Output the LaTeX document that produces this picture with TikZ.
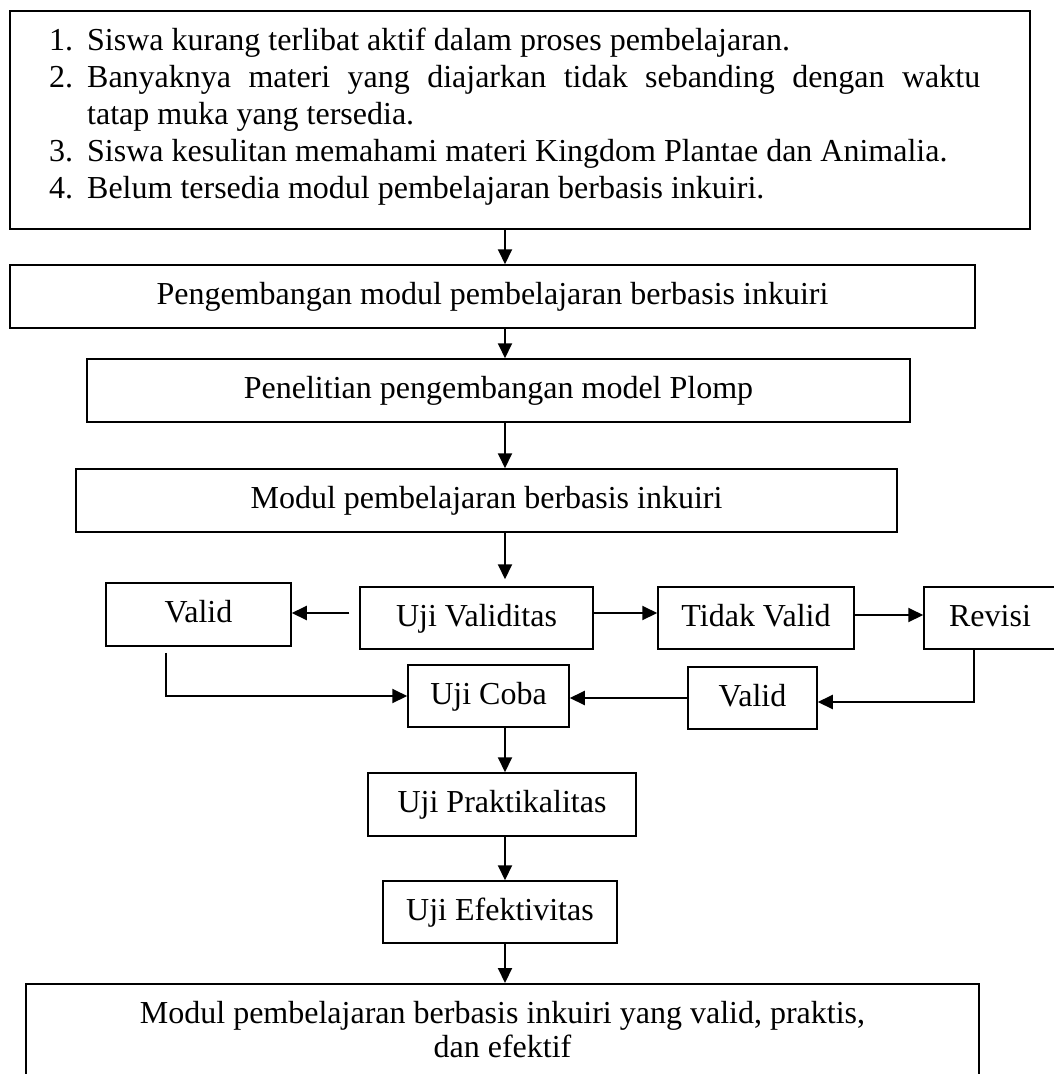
\documentclass[tikz,border=0pt]{standalone}
\usepackage{fontspec}
\setmainfont{Liberation Serif}
\usetikzlibrary{arrows.meta,calc}
\newcommand{\itm}[2]{\hangindent=38pt\hangafter=1\noindent\makebox[38pt][l]{#1}#2\par}
\begin{document}
\begin{tikzpicture}[x=1pt,y=-1pt,
  txt/.style={font=\fontsize{32}{37}\selectfont},
  box/.style={draw, line width=1.5pt, inner sep=0pt, txt, text height=23pt, text depth=6.5pt},
  conn/.style={line width=2pt, -{Triangle[length=15pt,width=14pt]}},
  plain/.style={line width=2pt}]
\useasboundingbox (0,0) rectangle (1054,1074);
\fill[white] (0,0) rectangle (1054,1074);
\coordinate (axis) at (505,0);

\node[box, minimum width=1020pt, minimum height=218pt] (top) at (520,120) {};
\node[txt, anchor=base west, text width=931pt, align=justify, inner sep=0pt] (list) at (49,50) {%
\itm{1.}{Siswa kurang terlibat aktif dalam proses pembelajaran.}%
\itm{2.}{Banyaknya materi yang diajarkan tidak sebanding dengan waktu\linebreak tatap muka yang tersedia.}%
\itm{3.}{Siswa kesulitan memahami materi Kingdom Plantae dan Animalia.}%
\itm{4.}{Belum tersedia modul pembelajaran berbasis inkuiri.}};

\node[box, minimum width=965pt, minimum height=63pt] (b2) at (492.5,296.5) {Pengembangan modul pembelajaran berbasis inkuiri};
\node[box, minimum width=823pt, minimum height=63pt] (b3) at (498.5,390.5) {Penelitian pengembangan model Plomp};
\node[box, minimum width=821pt, minimum height=63pt] (b4) at (486.5,500.5) {Modul pembelajaran berbasis inkuiri};

\node[box, minimum width=185pt, minimum height=63pt] (valL) at (198.5,614.5) {Valid};
\node[box, minimum width=233pt, minimum height=62pt] (uv) at (476.5,618) {Uji Validitas};
\node[box, minimum width=196pt, minimum height=62pt] (tv) at (756,618) {Tidak Valid};
\node[box, minimum width=132pt, minimum height=62pt] (rev) at (990,618) {Revisi};
\node[box, minimum width=161pt, minimum height=62pt] (uc) at (488.5,696) {Uji Coba};
\node[box, minimum width=129pt, minimum height=62pt] (valR) at (752.5,698) {Valid};
\node[box, minimum width=268pt, minimum height=63pt] (up) at (502,804.5) {Uji Praktikalitas};
\node[box, minimum width=234pt, minimum height=62pt] (ue) at (500,912) {Uji Efektivitas};

\node[box, minimum width=953pt, minimum height=110pt, anchor=north] (fin) at (502.5,983) {};
\node[anchor=base, align=center, inner sep=0pt, font=\fontsize{32}{34}\selectfont] (fintext) at (502.5,1057) {Modul pembelajaran berbasis inkuiri yang valid, praktis,\\dan efektif};

\draw[conn] (top.south -| axis) -- (b2.north -| axis);
\draw[conn] (b2.south -| axis) -- (b3.north -| axis);
\draw[conn] (b3.south -| axis) -- (b4.north -| axis);
\draw[conn] (b4.south -| axis) -- ([yshift=7pt]uv.north -| axis);
\draw[conn] ([xshift=-10pt,yshift=5pt]uv.west) -- ([yshift=5pt]uv.west -| valL.east);
\draw[conn] ([yshift=5pt]uv.east) -- ([yshift=5pt]uv.east -| tv.west);
\draw[conn] ([yshift=3pt]tv.east) -- ([yshift=3pt]tv.east -| rev.west);
\draw[conn] ([xshift=-32.5pt,yshift=-6pt]valL.south) |- (uc.west);
\draw[conn] (valR.west) -- (valR.west -| uc.east);
\draw[conn] ([xshift=-16pt]rev.south) |- ([yshift=-4pt]valR.east);
\draw[conn] (uc.south -| axis) -- (up.north -| axis);
\draw[conn] (up.south -| axis) -- (ue.north -| axis);
\draw[conn] (ue.south -| axis) -- (fin.north -| axis);
\end{tikzpicture}
\end{document}
